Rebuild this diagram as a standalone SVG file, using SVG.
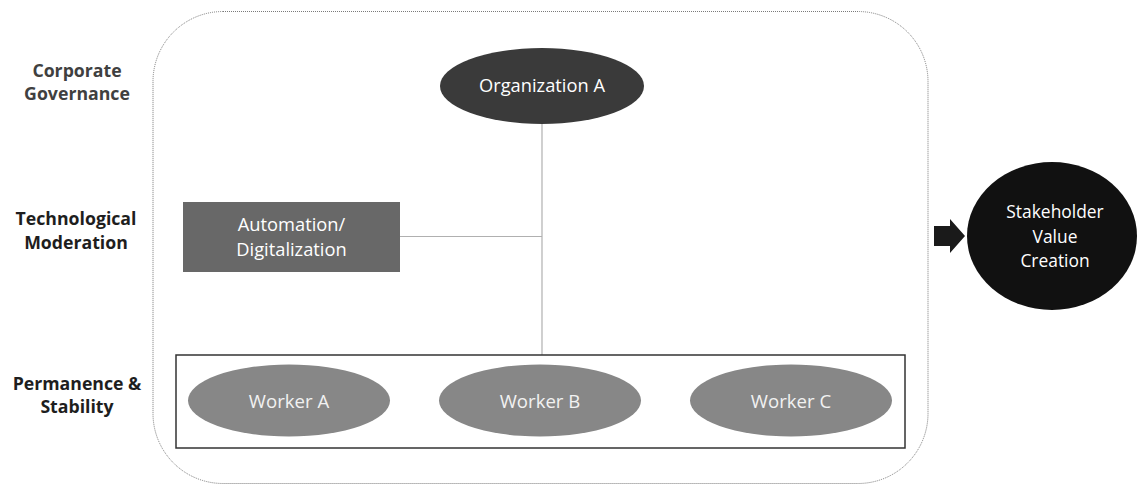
<svg xmlns="http://www.w3.org/2000/svg" width="1137" height="485" viewBox="0 0 1137 485">
  <style>
    .lbl { font-family: "Open Sans", "Noto Sans", sans-serif; font-weight: bold; font-size: 17.7px; text-anchor: middle; fill: #1e1e1e; }
    .lbl.gov { fill: #404040; }
    .txt { font-family: "Open Sans", "Noto Sans", sans-serif; font-size: 18.3px; text-anchor: middle; fill: #ffffff; }
    .txt.sv { font-size: 17.4px; }
    .wtxt { font-family: "Open Sans", "Noto Sans", sans-serif; font-size: 18.6px; text-anchor: middle; fill: #f2f2f2; }
    .link { stroke: #b0b0b0; stroke-width: 1.2; fill: none; }
    .worker { fill: #878787; }
  </style>

  <!-- frame around the organisation -->
  <rect id="frame" x="153" y="11.5" width="775" height="472" rx="70" ry="70" fill="none" stroke="#7a7a7a" stroke-width="1" stroke-dasharray="1 1"/>

  <!-- level labels -->
  <g id="labels">
    <text class="lbl gov" x="77" y="77">Corporate</text>
    <text class="lbl gov" x="77" y="100">Governance</text>
    <text class="lbl" x="76" y="225">Technological</text>
    <text class="lbl" x="76" y="249">Moderation</text>
    <text class="lbl" x="77" y="390">Permanence &amp;</text>
    <text class="lbl" x="77" y="413">Stability</text>
  </g>

  <!-- connectors -->
  <g id="connectors">
    <line class="link" x1="542" y1="124" x2="542" y2="355"/>
    <line class="link" x1="400" y1="236.5" x2="542" y2="236.5"/>
    <polygon id="arrow" points="934,226 950,226 950,219 965,236 950,253 950,246 934,246" fill="#1a1a1a"/>
  </g>

  <g id="org-a">
    <ellipse cx="542" cy="86" rx="102" ry="38" fill="#3a3a3a"/>
    <text class="txt" x="542" y="92">Organization A</text>
  </g>

  <g id="automation">
    <rect x="183" y="202" width="217" height="70" fill="#686868"/>
    <text class="txt" x="291.5" y="231">Automation/</text>
    <text class="txt" x="291.5" y="256">Digitalization</text>
  </g>

  <g id="workforce">
    <rect x="176" y="355" width="729" height="93" fill="none" stroke="#333333" stroke-width="1.5"/>
  </g>

  <g id="worker-a">
    <ellipse class="worker" cx="289" cy="400.5" rx="101" ry="36"/>
    <text class="wtxt" x="289" y="408">Worker A</text>
  </g>
  <g id="worker-b">
    <ellipse class="worker" cx="540" cy="400.5" rx="101" ry="36"/>
    <text class="wtxt" x="540" y="408">Worker B</text>
  </g>
  <g id="worker-c">
    <ellipse class="worker" cx="791" cy="400.5" rx="101" ry="36"/>
    <text class="wtxt" x="791" y="408">Worker C</text>
  </g>

  <g id="stakeholder">
    <ellipse cx="1052" cy="236" rx="85" ry="74" fill="#111111"/>
    <text class="txt sv" x="1055" y="218">Stakeholder</text>
    <text class="txt sv" x="1055" y="243">Value</text>
    <text class="txt sv" x="1055" y="267">Creation</text>
  </g>
</svg>
